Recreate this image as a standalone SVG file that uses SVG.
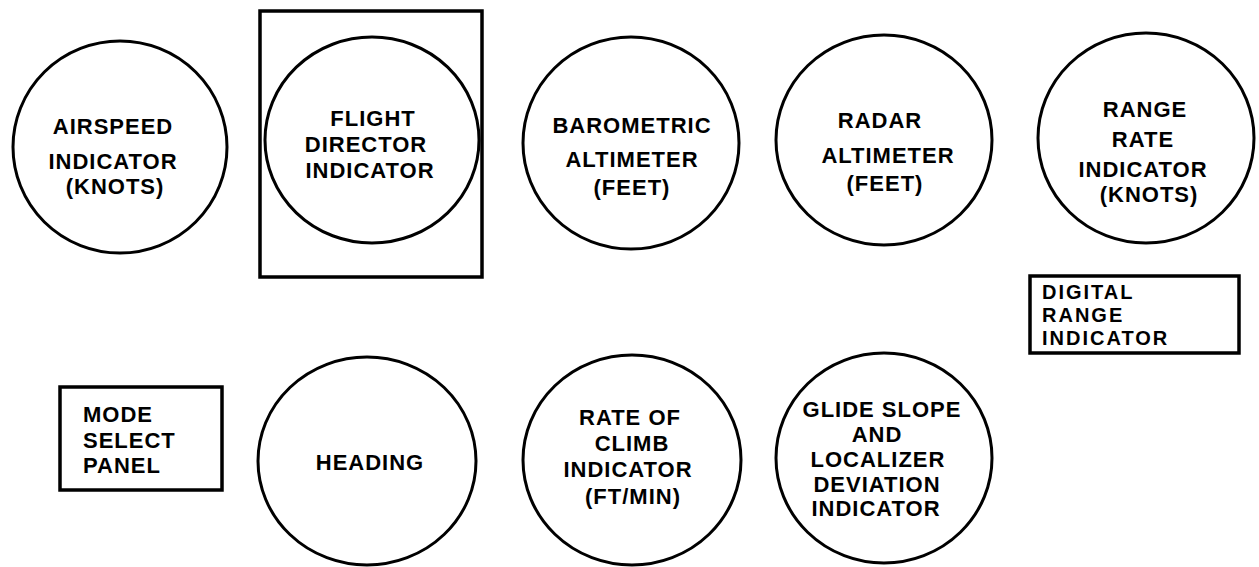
<svg xmlns="http://www.w3.org/2000/svg" width="1259" height="567" viewBox="0 0 1259 567">
<style>
.c{fill:none;stroke:#000;stroke-width:3}
.r{fill:none;stroke:#000;stroke-width:3.5}
.t{font-family:"Liberation Sans",Arial,sans-serif;font-weight:bold;font-size:22px;letter-spacing:1px;fill:#000;text-anchor:middle}
.l{text-anchor:start}
.b{font-family:"Liberation Sans",Arial,sans-serif;font-weight:bold;font-size:20px;letter-spacing:2px;fill:#000}
</style>
<rect width="1259" height="567" fill="#fff"/>
<g id="airspeed">
<ellipse class="c" cx="120" cy="147" rx="107" ry="106"/>
<text class="t" x="113" y="134">AIRSPEED</text>
<text class="t" x="113" y="169">INDICATOR</text>
<text class="t" x="115" y="194">(KNOTS)</text>
</g>
<g id="flight-director">
<rect class="r" x="260" y="11" width="222" height="266"/>
<ellipse class="c" cx="372" cy="140" rx="107" ry="103"/>
<text class="t" x="373" y="126">FLIGHT</text>
<text class="t" x="366" y="152">DIRECTOR</text>
<text class="t" x="370" y="178">INDICATOR</text>
</g>
<g id="barometric">
<ellipse class="c" cx="631" cy="143" rx="108" ry="106"/>
<text class="t" x="632" y="133">BAROMETRIC</text>
<text class="t" x="632" y="167">ALTIMETER</text>
<text class="t" x="632" y="195">(FEET)</text>
</g>
<g id="radar">
<ellipse class="c" cx="884" cy="140" rx="108" ry="105"/>
<text class="t" x="880" y="128">RADAR</text>
<text class="t" x="888" y="163">ALTIMETER</text>
<text class="t" x="885" y="191">(FEET)</text>
</g>
<g id="range-rate">
<ellipse class="c" cx="1146" cy="138" rx="108" ry="105"/>
<text class="t" x="1145" y="117">RANGE</text>
<text class="t" x="1143" y="147">RATE</text>
<text class="t" x="1143" y="177">INDICATOR</text>
<text class="t" x="1149" y="202">(KNOTS)</text>
</g>
<g id="digital-range">
<rect class="r" x="1030" y="276" width="209" height="77"/>
<text class="b" x="1042" y="299">DIGITAL</text>
<text class="b" x="1042" y="322">RANGE</text>
<text class="b" x="1042" y="345">INDICATOR</text>
</g>
<g id="mode-select">
<rect class="r" x="60" y="387" width="162" height="103"/>
<text class="t l" x="83" y="422">MODE</text>
<text class="t l" x="83" y="448">SELECT</text>
<text class="t l" x="83" y="473">PANEL</text>
</g>
<g id="heading">
<ellipse class="c" cx="367" cy="461" rx="109" ry="104"/>
<text class="t" x="370" y="470">HEADING</text>
</g>
<g id="rate-of-climb">
<ellipse class="c" cx="632" cy="460" rx="109" ry="105"/>
<text class="t" x="630" y="425">RATE OF</text>
<text class="t" x="632" y="451">CLIMB</text>
<text class="t" x="628" y="477">INDICATOR</text>
<text class="t" x="633" y="504">(FT/MIN)</text>
</g>
<g id="glide-slope">
<ellipse class="c" cx="884" cy="458" rx="108" ry="105"/>
<text class="t" x="882" y="417">GLIDE SLOPE</text>
<text class="t" x="877" y="442">AND</text>
<text class="t" x="878" y="467">LOCALIZER</text>
<text class="t" x="877" y="492">DEVIATION</text>
<text class="t" x="876" y="516">INDICATOR</text>
</g>
<g id="connectors"/>
</svg>
